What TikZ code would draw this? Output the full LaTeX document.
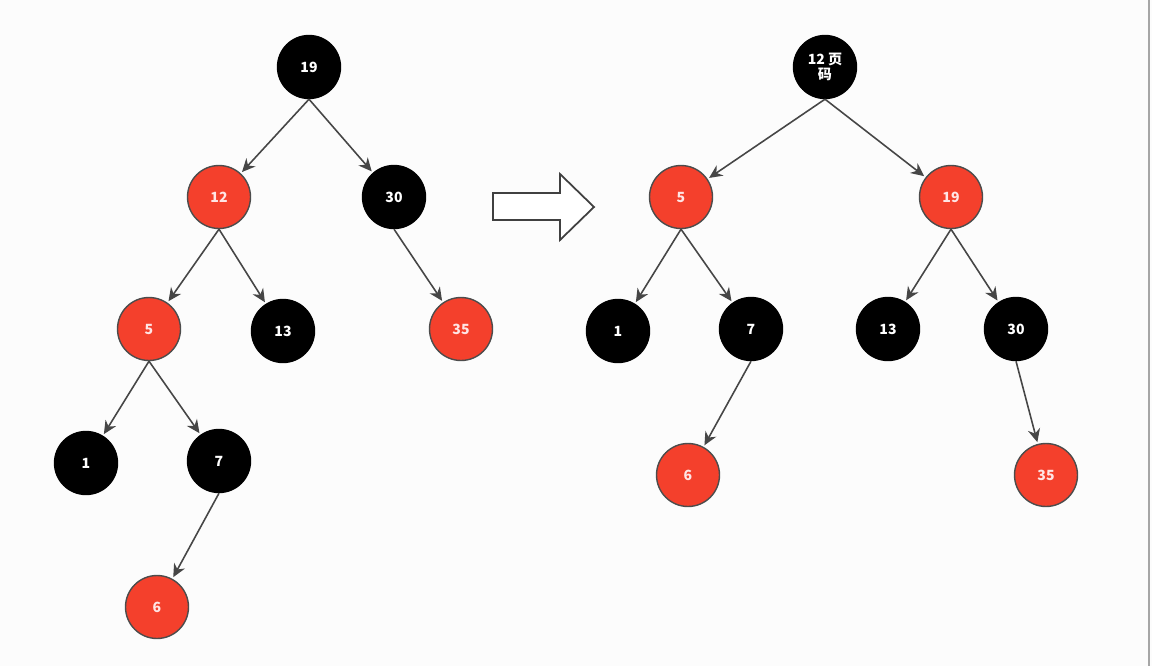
\documentclass[tikz,border=0pt]{standalone}
\usepackage{fontspec}
\newfontfamily\cjk{Noto Sans CJK SC}
\usetikzlibrary{arrows.meta}
\definecolor{nodered}{RGB}{244,64,44}
\definecolor{edgegray}{RGB}{70,70,70}
\begin{document}
\begin{tikzpicture}[x=0.02cm, y=-0.02cm, font=\cjk\bfseries\fontsize{8}{9}\selectfont, >={Stealth[length=7.5pt,width=7pt]},
	rednode/.style={circle, fill=nodered, draw=black!70, line width=0.8pt, minimum size=1.26cm, inner sep=0pt, text=white!90!red},
	blacknode/.style={circle, fill=black, draw=black, line width=0.8pt, minimum size=1.26cm, inner sep=0pt, text=white},
	edge/.style={->, draw=edgegray, line width=0.9pt, shorten >=1pt}]
	% Khung và nền
	\fill[black!1] (0,0) rectangle (1152,666);
	\useasboundingbox (0,0) rectangle (1152,666);
	\draw[black!35, line width=1.2pt] (1149,0) -- (1149,666);
	
	% Cây bên trái
	\node[blacknode] (L19) at (309,67) {19};
	\node[rednode] (L12) at (219,197) {12};
	\node[blacknode] (L30) at (394,197) {30};
	\node[rednode] (L5) at (149,329) {5};
	\node[blacknode] (L13) at (283,331) {13};
	\node[rednode] (L35) at (461,329) {35};
	\node[blacknode] (L1) at (86,463) {1};
	\node[blacknode] (L7) at (219,461) {7};
	\node[rednode] (L6) at (157,607) {6};
	
	\draw[edge] (L19.south) -- (L12);
	\draw[edge] (L19.south) -- (L30);
	\draw[edge] (L12.south) -- (L5);
	\draw[edge] (L12.south) -- (L13);
	\draw[edge] (L30.south) -- (L35);
	\draw[edge] (L5.south) -- (L1);
	\draw[edge] (L5.south) -- (L7);
	\draw[edge] (L7.south) -- (L6);
	
	% Mũi tên rỗng ở giữa
	\draw[black!75, line width=1pt, fill=white] (493,193) -- (560,193) -- (560,174) -- (594,207)
		-- (560,240) -- (560,220) -- (493,220) -- cycle;
	
	% Cây bên phải
	\node[blacknode, align=center] (R12) at (825,67) {12 页\\码};
	\node[rednode] (R5) at (681,197) {5};
	\node[rednode] (R19) at (951,197) {19};
	\node[blacknode] (R1) at (618,331) {1};
	\node[blacknode] (R7) at (751,329) {7};
	\node[blacknode] (R13) at (888,329) {13};
	\node[blacknode] (R30) at (1016,329) {30};
	\node[rednode] (R6) at (688,475) {6};
	\node[rednode] (R35) at (1046,475) {35};
	
	\draw[edge] (R12.south) -- (R5);
	\draw[edge] (R12.south) -- (R19);
	\draw[edge] (R5.south) -- (R1);
	\draw[edge] (R5.south) -- (R7);
	\draw[edge] (R19.south) -- (R13);
	\draw[edge] (R19.south) -- (R30);
	\draw[edge] (R7.south) -- (R6);
	\draw[edge] (R30.south) -- (R35);
\end{tikzpicture}
\end{document}
